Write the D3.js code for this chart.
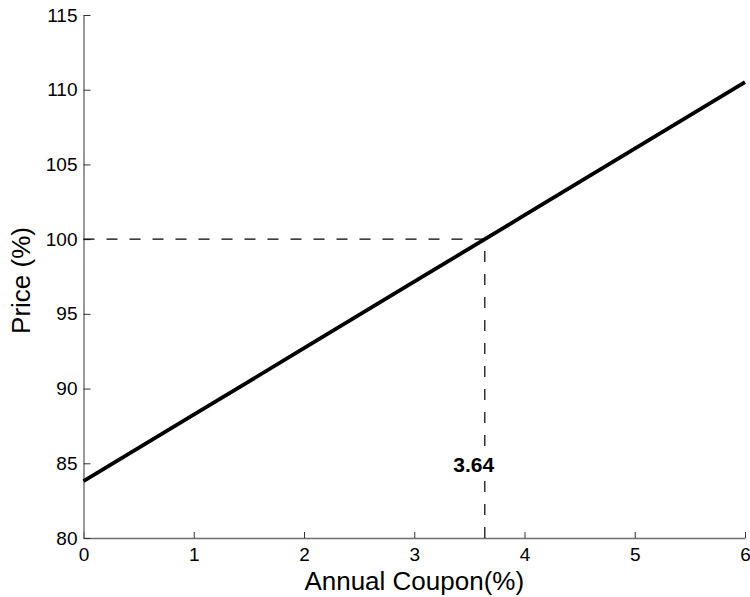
<!DOCTYPE html>
<html>
<head>
<meta charset="utf-8">
<script src="https://cdn.jsdelivr.net/npm/d3@7"></script>
<style>
  html, body { margin: 0; padding: 0; background: #fff; }
  svg { display: block; font-family: "Liberation Sans", Arial, Helvetica, sans-serif; }
</style>
</head>
<body>
<svg id="chart" width="750" height="597"></svg>
<script>
// Bond price against annual coupon rate
const coupons = [0, 1, 2, 3, 4, 5, 6];
const prices = [83.8, 88.25, 92.7, 97.15, 101.6, 106.05, 110.5];

// Par coupon: price equals 100
const parCoupon = 3.64;
const parPrice = 100;

const xTicks = [0, 1, 2, 3, 4, 5, 6];
const yTicks = [80, 85, 90, 95, 100, 105, 110, 115];

const plotLeft = 83.5, plotRight = 745, plotTop = 15, plotBottom = 538;

const svg = d3.select("#chart");

const x = d3.scaleLinear().domain([0, 6]).range([plotLeft, plotRight]);
const y = d3.scaleLinear().domain([80, 115]).range([plotBottom, plotTop]);

// Axes with inward ticks
const xAxis = d3.axisBottom(x).tickValues(xTicks).tickFormat(d3.format("d"))
  .tickSizeInner(-6).tickSizeOuter(0).tickPadding(10);
const yAxis = d3.axisLeft(y).tickValues(yTicks).tickFormat(d3.format("d"))
  .tickSizeInner(-7).tickSizeOuter(0).tickPadding(6);

const gx = svg.append("g").attr("transform", `translate(0,${plotBottom})`).call(xAxis);
const gy = svg.append("g").attr("transform", `translate(${plotLeft},0)`).call(yAxis);

[gx, gy].forEach(g => {
  g.select(".domain").attr("stroke", "#6e6e6e").attr("stroke-width", 1.4);
  g.selectAll(".tick line").attr("stroke", "#333").attr("stroke-width", 1);
  g.selectAll(".tick text").attr("fill", "#000").style("font-size", "19px")
    .style("font-family", "'Liberation Sans', Arial, Helvetica, sans-serif");
});

// Dashed guides to the par point
svg.append("line")
  .attr("x1", x(0)).attr("y1", y(parPrice))
  .attr("x2", x(parCoupon)).attr("y2", y(parPrice))
  .attr("stroke", "#000").attr("stroke-width", 1.2)
  .attr("stroke-dasharray", "11,12");

svg.append("line")
  .attr("x1", x(parCoupon)).attr("y1", y(80))
  .attr("x2", x(parCoupon)).attr("y2", y(parPrice))
  .attr("stroke", "#000").attr("stroke-width", 1.2)
  .attr("stroke-dasharray", "11,12");

// Price line
const line = d3.line().x((d, i) => x(coupons[i])).y(d => y(d));
svg.append("path")
  .datum(prices)
  .attr("d", line)
  .attr("fill", "none")
  .attr("stroke", "#000")
  .attr("stroke-width", 3.8)
  .attr("stroke-linecap", "butt");

// Par coupon label, with a white backing over the vertical guide
const labelGroup = svg.append("g");
const backing = labelGroup.append("rect").attr("fill", "#fff");
const label = labelGroup.append("text")
  .attr("x", x(parCoupon) - 11)
  .attr("y", y(84.45))
  .attr("text-anchor", "middle")
  .style("font-size", "21px")
  .style("font-weight", "bold")
  .text(parCoupon.toFixed(2));
const bb = label.node().getBBox();
backing
  .attr("x", bb.x - 2).attr("y", bb.y - 1)
  .attr("width", bb.width + 4).attr("height", bb.height + 2);

// Axis titles
svg.append("text")
  .attr("x", (plotLeft + plotRight) / 2)
  .attr("y", 590)
  .attr("text-anchor", "middle")
  .style("font-size", "26px")
  .text("Annual Coupon(%)");

svg.append("text")
  .attr("transform", `translate(30,${(plotTop + plotBottom) / 2 + 4}) rotate(-90)`)
  .attr("text-anchor", "middle")
  .style("font-size", "26px")
  .text("Price (%)");
</script>
</body>
</html>
